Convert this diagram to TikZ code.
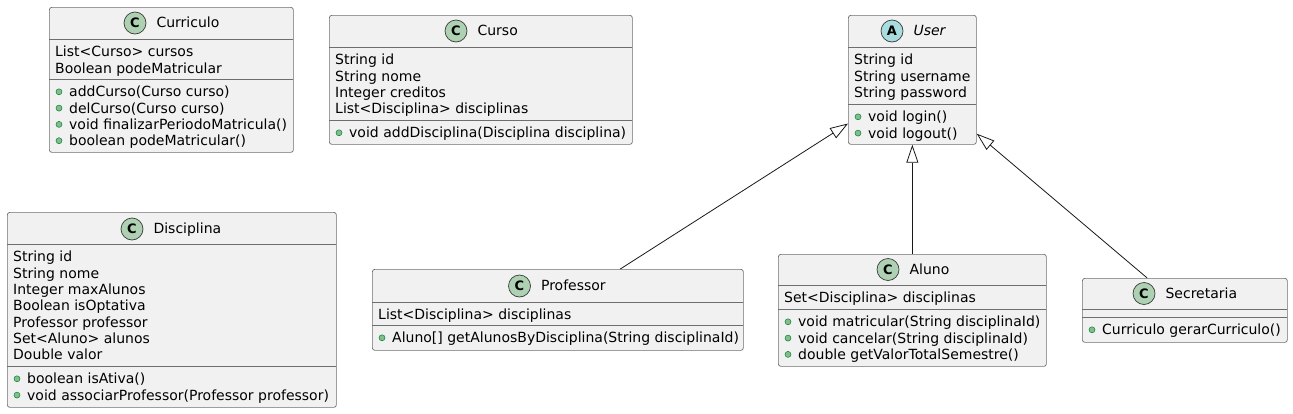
\documentclass[tikz,border=0pt]{standalone}
\usepackage{fontspec}
\setmainfont{DejaVu Sans}
\usetikzlibrary{arrows.meta, positioning, calc}

\begin{document}
\begin{tikzpicture}[x=1pt, y=-1pt,
  classbox/.style={rectangle, draw=boxline, fill=boxfill, line width=0.7pt,
    rounded corners=2.5pt, anchor=north west, inner sep=0pt},
  classicon/.style={circle, draw=iconline, line width=0.7pt, minimum size=22pt,
    inner sep=0pt, font=\fontsize{13}{13}\selectfont\bfseries},
  classtitle/.style={anchor=base west, inner sep=0pt, font=\fontsize{14}{16}\selectfont},
  membertext/.style={anchor=base west, inner sep=0pt, font=\fontsize{14}{16}\selectfont},
  bullet/.style={circle, fill=bulletfill, draw=bulletline, line width=0.5pt,
    minimum size=6pt, inner sep=0pt},
  sepline/.style={draw=boxline, line width=0.7pt},
  inherit/.style={draw=edgeline, line width=0.8pt,
    {Triangle[open, length=18pt, width=12pt, line width=0.8pt]}-}]
  % Define colors
  \definecolor{boxfill}{HTML}{F1F1F1}
  \definecolor{boxline}{HTML}{6E6E6E}
  \definecolor{iconline}{HTML}{3A3A3A}
  \definecolor{classgreen}{HTML}{ADD1B2}
  \definecolor{abstractblue}{HTML}{A9DCDF}
  \definecolor{bulletfill}{HTML}{84BE84}
  \definecolor{bulletline}{HTML}{038048}
  \definecolor{edgeline}{HTML}{181818}

  \useasboundingbox (0,0) rectangle (1293,413);

  % Curriculo
  \node[classbox, minimum width=244pt, minimum height=145pt] (curriculo) at (49,7) {};
  \node[classicon, fill=classgreen] (curriculo-icon) at (135,23) {C};
  \node[classtitle] (curriculo-title) at ($(curriculo-icon.east)+(10,4.8)$) {Curriculo};
  \draw[sepline] (49,39) -- (293,39);
  \draw[sepline] (49,79) -- (293,79);
  \foreach \txt [count=\i] in {{List<Curso> cursos}, {Boolean podeMatricular}}
    \node[membertext] (curriculo-attr\i) at (55, {39+17.8+16.3*(\i-1)}) {\txt};
  \foreach \txt [count=\i] in {{addCurso(Curso curso)}, {delCurso(Curso curso)},
      {void finalizarPeriodoMatricula()}, {boolean podeMatricular()}} {
    \node[membertext] (curriculo-op\i) at (69, {79+17.8+16.3*(\i-1)}) {\txt};
    \node[bullet] at (59, {79+12.8+16.3*(\i-1)}) {};
  }

  % Curso
  \node[classbox, minimum width=303pt, minimum height=129pt] (curso) at (329,15) {};
  \node[classicon, fill=classgreen] (curso-icon) at (456,31) {C};
  \node[classtitle] (curso-title) at ($(curso-icon.east)+(10,4.8)$) {Curso};
  \draw[sepline] (329,47) -- (632,47);
  \draw[sepline] (329,120) -- (632,120);
  \foreach \txt [count=\i] in {{String id}, {String nome}, {Integer creditos},
      {List<Disciplina> disciplinas}}
    \node[membertext] (curso-attr\i) at (335, {47+17.8+16.3*(\i-1)}) {\txt};
  \node[membertext] (curso-op1) at (349, {120+17.8}) {void addDisciplina(Disciplina disciplina)};
  \node[bullet] at (339, {120+12.8}) {};

  % User (abstract)
  \node[classbox, minimum width=128pt, minimum height=129pt] (user) at (848,15) {};
  \node[classicon, fill=abstractblue] (user-icon) at (892,31) {A};
  \node[classtitle, font=\fontsize{14}{16}\selectfont\itshape] (user-title)
    at ($(user-icon.east)+(10,4.8)$) {User};
  \draw[sepline] (848,47) -- (976,47);
  \draw[sepline] (848,104) -- (976,104);
  \foreach \txt [count=\i] in {{String id}, {String username}, {String password}}
    \node[membertext] (user-attr\i) at (854, {47+17.8+16.3*(\i-1)}) {\txt};
  \foreach \txt [count=\i] in {{void login()}, {void logout()}} {
    \node[membertext] (user-op\i) at (868, {104+17.8+16.3*(\i-1)}) {\txt};
    \node[bullet] at (858, {104+12.8+16.3*(\i-1)}) {};
  }

  % Disciplina
  \node[classbox, minimum width=329pt, minimum height=195pt] (disciplina) at (7,212) {};
  \node[classicon, fill=classgreen] (disciplina-icon) at (132,229) {C};
  \node[classtitle] (disciplina-title) at ($(disciplina-icon.east)+(10,4.8)$) {Disciplina};
  \draw[sepline] (7,244) -- (336,244);
  \draw[sepline] (7,366) -- (336,366);
  \foreach \txt [count=\i] in {{String id}, {String nome}, {Integer maxAlunos},
      {Boolean isOptativa}, {Professor professor}, {Set<Aluno> alunos}, {Double valor}}
    \node[membertext] (disciplina-attr\i) at (13, {244+17.8+16.3*(\i-1)}) {\txt};
  \foreach \txt [count=\i] in {{boolean isAtiva()},
      {void associarProfessor(Professor professor)}} {
    \node[membertext] (disciplina-op\i) at (27, {366+17.8+16.3*(\i-1)}) {\txt};
    \node[bullet] at (17, {366+12.8+16.3*(\i-1)}) {};
  }

  % Professor
  \node[classbox, minimum width=371pt, minimum height=81pt] (professor) at (372,269) {};
  \node[classicon, fill=classgreen] (professor-icon) at (519.5,286) {C};
  \node[classtitle] (professor-title) at ($(professor-icon.east)+(10,4.8)$) {Professor};
  \draw[sepline] (372,302) -- (743,302);
  \draw[sepline] (372,325) -- (743,325);
  \node[membertext] (professor-attr1) at (378, {302+17.8}) {List<Disciplina> disciplinas};
  \node[membertext] (professor-op1) at (392, {325+17.8}) {Aluno[] getAlunosByDisciplina(String disciplinaId)};
  \node[bullet] at (382, {325+12.8}) {};

  % Aluno
  \node[classbox, minimum width=268pt, minimum height=112pt] (aluno) at (778,254) {};
  \node[classicon, fill=classgreen] (aluno-icon) at (888,269.5) {C};
  \node[classtitle] (aluno-title) at ($(aluno-icon.east)+(10,4.8)$) {Aluno};
  \draw[sepline] (778,285) -- (1046,285);
  \draw[sepline] (778,309) -- (1046,309);
  \node[membertext] (aluno-attr1) at (784, {285+17.8}) {Set<Disciplina> disciplinas};
  \foreach \txt [count=\i] in {{void matricular(String disciplinaId)},
      {void cancelar(String disciplinaId)}, {double getValorTotalSemestre()}} {
    \node[membertext] (aluno-op\i) at (798, {309+17.8+16.3*(\i-1)}) {\txt};
    \node[bullet] at (788, {309+12.8+16.3*(\i-1)}) {};
  }

  % Secretaria
  \node[classbox, minimum width=205pt, minimum height=64pt] (secretaria) at (1082,278) {};
  \node[classicon, fill=classgreen] (secretaria-icon) at (1144,293.5) {C};
  \node[classtitle] (secretaria-title) at ($(secretaria-icon.east)+(10,4.8)$) {Secretaria};
  \draw[sepline] (1082,309) -- (1287,309);
  \draw[sepline] (1082,317) -- (1287,317);
  \node[membertext] (secretaria-op1) at (1102, {317+17.8}) {Curriculo gerarCurriculo()};
  \node[bullet] at (1092, {317+12.8}) {};

  % Generalizations to User
  \draw[inherit] ($(user.north west)!0.837!(user.south west)$)
    -- ($(professor.north west)!0.668!(professor.north east)$);
  \draw[inherit] (user.south) -- (aluno.north);
  \draw[inherit] ($(user.north east)!0.915!(user.south east)$)
    -- ($(secretaria.north west)!0.317!(secretaria.north east)$);
\end{tikzpicture}
\end{document}
